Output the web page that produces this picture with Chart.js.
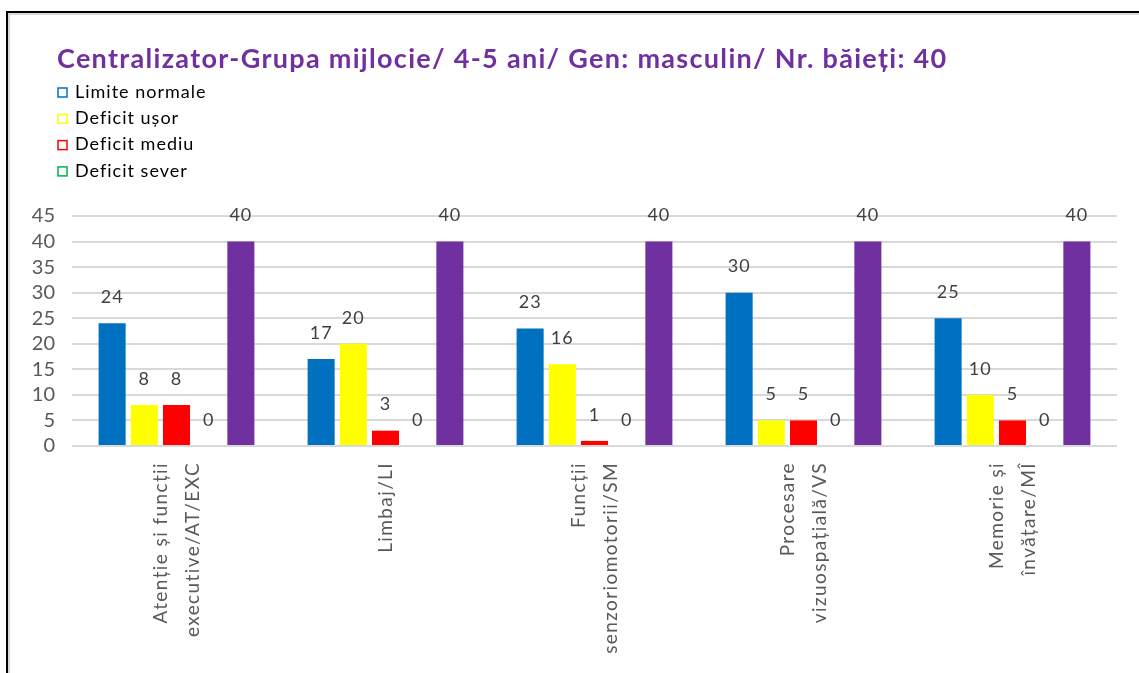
<!DOCTYPE html>
<html lang="ro">
<head>
    <meta charset="UTF-8">
    <title>Centralizator - Grupa mijlocie</title>
    <script src="https://cdn.jsdelivr.net/npm/chart.js"></script>
    <style>
        html, body { margin: 0; padding: 0; background: #fff; overflow: hidden; }
        .rama {
            position: absolute; left: 6px; top: 11px; width: 1200px; height: 700px;
            border-left: 2px solid #000; border-top: 2px solid #000;
            box-shadow: inset 2px 2px 0 #d9d9d9;
        }
        .grafico { position: absolute; left: 0; top: 0; width: 1139px; height: 673px; }
    </style>
</head>
<body>
    <div class="rama"></div>
    <div class="grafico">
        <canvas id="chartCentralizator" width="1139" height="673"></canvas>
    </div>

<script>
    var titlu = 'Centralizator-Grupa mijlocie/ 4-5 ani/ Gen: masculin/ Nr. băieți: 40';
    var categorii = [
        ['Atenție și funcții', 'executive/AT/EXC'],
        ['Limbaj/LI'],
        ['Funcții', 'senzoriomotorii/SM'],
        ['Procesare', 'vizuospațială/VS'],
        ['Memorie și', 'învățare/MÎ']
    ];
    var limiteNormale = [24, 17, 23, 30, 25];
    var deficitUsor = [8, 20, 16, 5, 10];
    var deficitMediu = [8, 3, 1, 5, 5];
    var deficitSever = [0, 0, 0, 0, 0];
    var totalBaieti = [40, 40, 40, 40, 40];
    var ticksY = [0, 5, 10, 15, 20, 25, 30, 35, 40, 45];

    var fonte = 'Lato, "Open Sans", sans-serif';

    // etichete cu valori deasupra barelor
    const eticheteValori = {
        id: 'eticheteValori',
        afterDatasetsDraw(chart) {
            const ctx = chart.ctx;
            ctx.save();
            ctx.font = '18px ' + fonte;
            ctx.letterSpacing = '1px';
            ctx.fillStyle = '#404040';
            ctx.textAlign = 'center';
            ctx.textBaseline = 'middle';
            chart.data.datasets.forEach((ds, i) => {
                chart.getDatasetMeta(i).data.forEach((bar, j) => {
                    ctx.fillText(ds.data[j], bar.x, bar.y - 26);
                });
            });
            ctx.restore();
        }
    };

    // etichetele categoriilor, rotite, centrate pe categorie
    const eticheteX = {
        id: 'eticheteX',
        afterDraw(chart) {
            const ctx = chart.ctx;
            const sx = chart.scales.x;
            const linie = 32;
            ctx.save();
            ctx.font = '19px ' + fonte;
            ctx.letterSpacing = '1.4px';
            ctx.fillStyle = '#595959';
            ctx.textAlign = 'right';
            ctx.textBaseline = 'middle';
            categorii.forEach((lab, i) => {
                const x = sx.getPixelForValue(i);
                const y = chart.chartArea.bottom + 16;
                const start = -(lab.length - 1) * linie / 2;
                ctx.save();
                ctx.translate(x, y);
                ctx.rotate(-Math.PI / 2);
                lab.forEach((t, k) => ctx.fillText(t, 0, start + k * linie));
                ctx.restore();
            });
            ctx.restore();
        }
    };

    // titlu + legenda verticala
    const titluLegenda = {
        id: 'titluLegenda',
        afterDraw(chart) {
            const ctx = chart.ctx;
            ctx.save();
            ctx.font = 'bold 27px ' + fonte;
            ctx.letterSpacing = '1.3px';
            ctx.fillStyle = '#7030A0';
            ctx.textBaseline = 'middle';
            ctx.textAlign = 'left';
            ctx.fillText(titlu, 57, 59);

            ctx.font = '18px ' + fonte;
            ctx.letterSpacing = '1px';
            let y = 92;
            chart.data.datasets.forEach(ds => {
                if (ds.inLegenda === false) return;
                ctx.fillStyle = '#fff';
                ctx.fillRect(58, y - 4, 9, 9);
                ctx.strokeStyle = ds.backgroundColor;
                ctx.lineWidth = 1.5;
                ctx.strokeRect(58, y - 4, 9, 9);
                ctx.fillStyle = '#000';
                ctx.fillText(ds.label, 75, y);
                y += 26.3;
            });
            ctx.restore();
        }
    };

    const ctx = document.getElementById('chartCentralizator');

    new Chart(ctx, {
        type: 'bar',
        data: {
            labels: categorii,
            datasets: [
                { label: 'Limite normale', data: limiteNormale, backgroundColor: '#0070C0' },
                { label: 'Deficit ușor', data: deficitUsor, backgroundColor: '#FFFF00' },
                { label: 'Deficit mediu', data: deficitMediu, backgroundColor: '#FF0000' },
                { label: 'Deficit sever', data: deficitSever, backgroundColor: '#00B050' },
                { label: 'Total', data: totalBaieti, backgroundColor: '#7030A0', inLegenda: false }
            ]
        },
        options: {
            responsive: false,
            animation: false,
            events: [],
            categoryPercentage: 0.77,
            barPercentage: 0.84,
            layout: { padding: { top: 216, right: 22, left: 0, bottom: 0 } },
            plugins: {
                legend: { display: false },
                tooltip: { enabled: false }
            },
            scales: {
                x: {
                    grid: { display: false },
                    border: { display: false },
                    ticks: { display: false },
                    afterFit(scale) { scale.height = 227; }
                },
                y: {
                    min: 0,
                    max: 45,
                    grid: { color: '#d9d9d9', lineWidth: 2, drawTicks: false },
                    border: { display: false },
                    afterBuildTicks(scale) { scale.ticks = ticksY.map(v => ({ value: v })); },
                    ticks: {
                        autoSkip: false,
                        padding: 17,
                        color: '#595959',
                        font: { family: fonte, size: 20 }
                    },
                    afterFit(scale) { scale.width = 72; }
                }
            }
        },
        plugins: [eticheteValori, eticheteX, titluLegenda]
    });
</script>
</body>
</html>
